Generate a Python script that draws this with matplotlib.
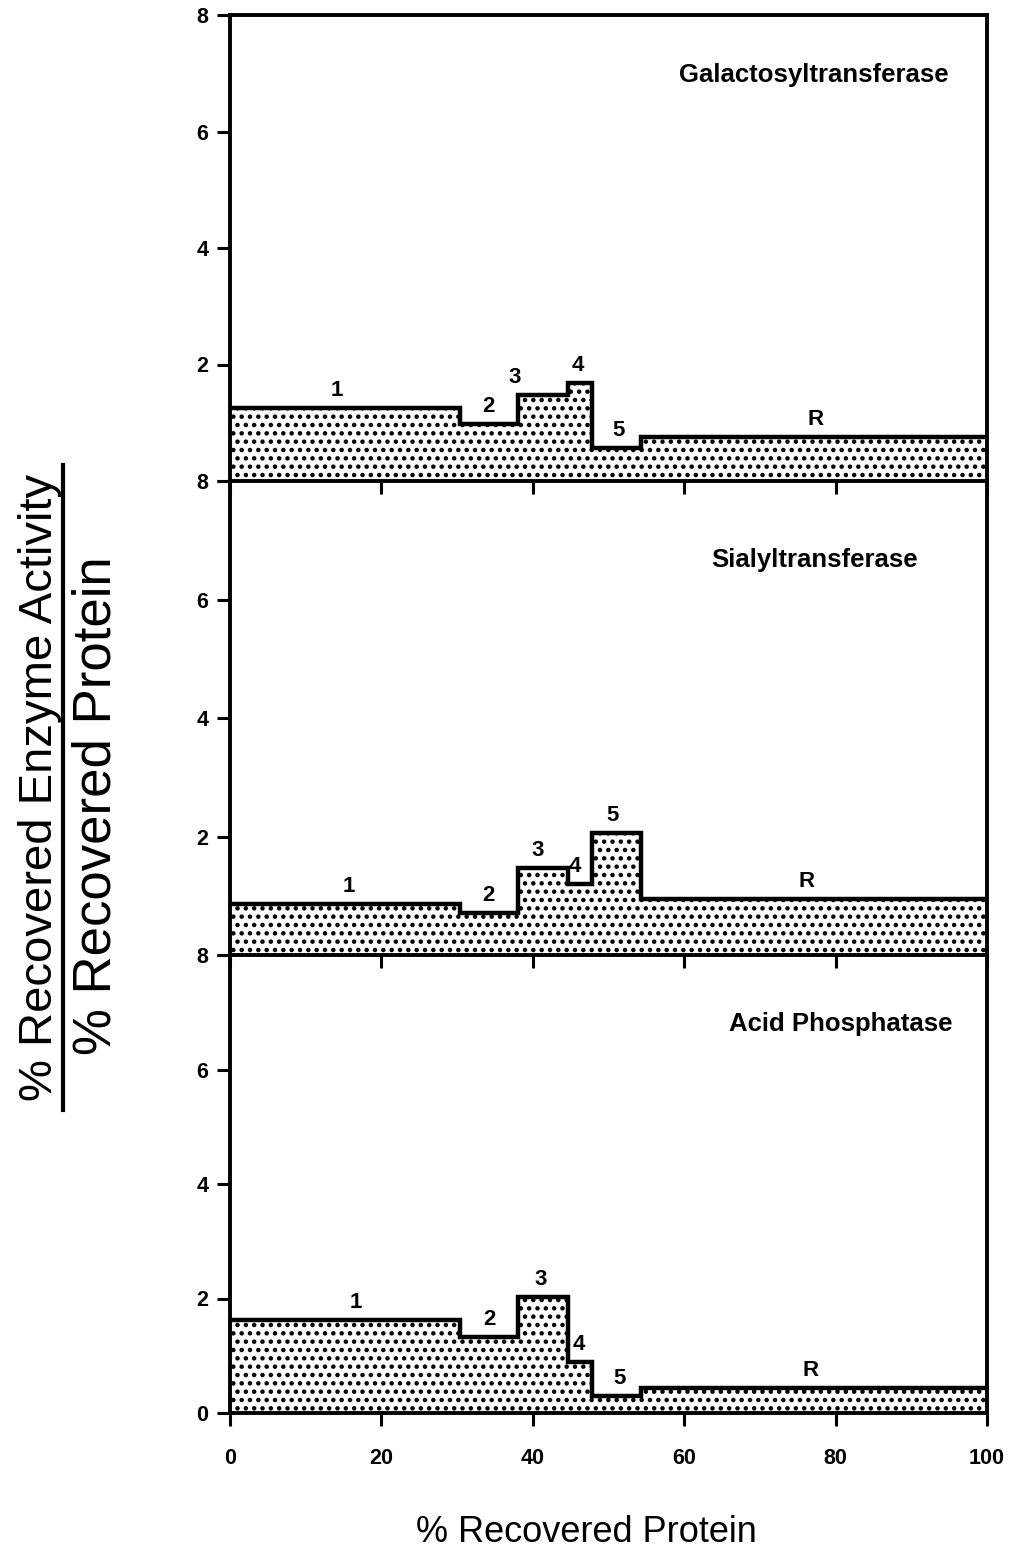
import matplotlib
matplotlib.use("Agg")
import matplotlib.pyplot as plt
import numpy as np

plt.rcParams['font.family'] = ['Liberation Sans', 'DejaVu Sans']
plt.rcParams['hatch.linewidth'] = 2.0

# Fraction boundaries (% recovered protein)
edges = [0, 30.4, 38.0, 44.6, 47.8, 54.3, 100]
fraction_labels = ["1", "2", "3", "4", "5", "R"]

titles = ["Galactosyltransferase", "Sialyltransferase", "Acid Phosphatase"]

galacto = [1.25, 0.98, 1.48, 1.68, 0.57, 0.76]
sialyl = [0.86, 0.71, 1.47, 1.20, 2.06, 0.94]
acidp = [1.62, 1.33, 2.03, 0.89, 0.30, 0.44]
series = [galacto, sialyl, acidp]

# label x positions for the fraction numbers
label_x = [
    [14.1, 34.1, 37.6, 46.0, 51.3, 77.3],
    [15.7, 34.2, 40.6, 45.6, 50.5, 76.1],
    [16.6, 34.3, 41.0, 46.1, 51.4, 76.7],
]

yticks = [0, 2, 4, 6, 8]
xticks = [0, 20, 40, 60, 80, 100]

fig = plt.figure(figsize=(10.11, 15.6), dpi=100)
L, R = 230 / 1011, 987 / 1011
bounds = [(15, 481), (481, 955), (955, 1413)]
title_pos = [(814, 75), (815, 560), (841, 1024)]

for i, (vals, (top, bot)) in enumerate(zip(series, bounds)):
    ax = fig.add_axes([L, 1 - bot / 1560, R - L, (bot - top) / 1560])
    ax.set_facecolor('none')
    ax.stairs(vals, edges, fill=True, facecolor='white', edgecolor='black',
              hatch='..', linewidth=0)
    ax.stairs(vals, edges, color='black', linewidth=3.2, baseline=None)
    ax.set_xlim(0, 100)
    ax.set_ylim(0, 8)
    for s in ax.spines.values():
        s.set_linewidth(2.8)
    if i > 0:
        ax.spines['top'].set_visible(False)
    ax.set_xticks(xticks)
    ax.set_yticks(yticks)
    if i < 2:
        ax.set_yticklabels(["", "2", "4", "6", "8"])
        ax.set_xticklabels([])
    else:
        ax.set_xticklabels([str(t) for t in xticks])
    ax.tick_params(axis='both', direction='out', length=9.5, width=2.2,
                   labelsize=15.5, pad=6)
    ax.tick_params(axis='x', pad=16)
    for lab in ax.get_xticklabels() + ax.get_yticklabels():
        lab.set_fontweight('bold')
    for lx, v, t in zip(label_x[i], vals, fraction_labels):
        ax.text(lx, v + 0.12, t, ha='center', va='bottom', fontsize=16,
                fontweight='bold')
    tx, ty = title_pos[i]
    fig.text(tx / 1011, 1 - ty / 1560, titles[i], ha='center', va='center',
             fontsize=18.5, fontweight='bold')

fig.text(586 / 1011, 1 - 1532 / 1560, "% Recovered Protein", ha='center',
         va='center', fontsize=26)
fig.text(40 / 1011, 1 - 787 / 1560, "% Recovered Enzyme Activity",
         ha='center', va='center', rotation=90, fontsize=34)
fig.text(97 / 1011, 1 - 806 / 1560, "% Recovered Protein",
         ha='center', va='center', rotation=90, fontsize=38)
fig.add_artist(plt.Line2D([63 / 1011, 63 / 1011], [1 - 1110 / 1560, 1 - 465 / 1560],
                          color='black', linewidth=3))

fig.savefig("out.png", dpi=100)
